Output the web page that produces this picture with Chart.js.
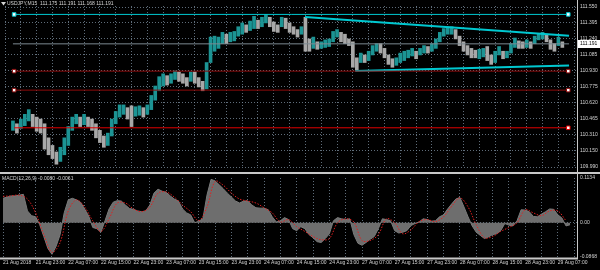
<!DOCTYPE html>
<html>
<head>
<meta charset="utf-8">
<script src="https://cdn.jsdelivr.net/npm/chart.js@4.4.1/dist/chart.umd.min.js"></script>
<style>
    html, body { margin: 0; padding: 0; background: #000; }
    #wrap { position: relative; width: 600px; height: 270px; overflow: hidden; background: #000; }
    canvas { position: absolute; left: 0; }
    #priceCanvas { top: 0; }
    #macdCanvas { top: 172px; }
</style>
</head>
<body>
<div id="wrap">
    <canvas id="priceCanvas" width="600" height="174"></canvas>
    <canvas id="macdCanvas" width="600" height="98"></canvas>
</div>
<script>
/* === DATA (x = hours since 21 Aug 15:00, one value per hour) === */
const symbolName = "USDJPY,M15";
const ohlc = [111.175, 111.191, 111.168, 111.191];
const lastPrice = 111.191;

const timeLabels = ["21 Aug 2018", "21 Aug 23:00", "22 Aug 07:00", "22 Aug 15:00", "22 Aug 23:00",
    "23 Aug 07:00", "23 Aug 15:00", "23 Aug 23:00", "24 Aug 07:00", "24 Aug 15:00", "24 Aug 23:00",
    "27 Aug 07:00", "27 Aug 15:00", "27 Aug 23:00", "28 Aug 07:00", "28 Aug 15:00", "28 Aug 23:00",
    "29 Aug 07:00"];

const priceTicks = [111.550, 111.395, 111.240, 111.085, 110.930, 110.775, 110.620, 110.465, 110.310, 110.150, 109.990];

const priceHigh = [
    110.440, 110.412, 110.458, 110.504, 110.550, 110.504, 110.477, 110.458, 110.412, 110.275,
    110.201, 110.137, 110.183, 110.275, 110.385, 110.477, 110.504, 110.477, 110.504, 110.477,
    110.458, 110.412, 110.348, 110.293, 110.321, 110.458, 110.532, 110.596, 110.596, 110.569,
    110.587, 110.578, 110.587, 110.569, 110.596, 110.688, 110.780, 110.871, 110.899, 110.881,
    110.899, 110.927, 110.917, 110.899, 110.862, 110.917, 110.917, 110.862, 110.826, 111.009,
    111.257, 111.266, 111.257, 111.303, 111.285, 111.303, 111.312, 111.358, 111.395, 111.376,
    111.413, 111.459, 111.422, 111.450, 111.477, 111.450, 111.404, 111.376, 111.450, 111.441,
    111.395, 111.358, 111.330, 111.358, 111.450, 111.239, 111.257, 111.211, 111.211, 111.230,
    111.239, 111.312, 111.330, 111.303, 111.285, 111.239, 111.211, 111.055, 111.101, 111.083,
    111.119, 111.174, 111.193, 111.193, 111.147, 111.083, 111.046, 111.055, 111.101, 111.119,
    111.129, 111.147, 111.119, 111.147, 111.174, 111.165, 111.193, 111.239, 111.303, 111.340,
    111.358, 111.358, 111.330, 111.266, 111.211, 111.174, 111.147, 111.129, 111.138, 111.147,
    111.165, 111.083, 111.119, 111.165, 111.119, 111.119, 111.193, 111.248, 111.220, 111.211,
    111.230, 111.211, 111.266, 111.285, 111.303, 111.285, 111.230, 111.193, 111.257, 111.211
];
const priceLow = [
    110.348, 110.321, 110.367, 110.394, 110.440, 110.385, 110.339, 110.321, 110.165, 110.110,
    110.073, 110.018, 110.045, 110.110, 110.201, 110.348, 110.412, 110.385, 110.403, 110.385,
    110.348, 110.275, 110.229, 110.183, 110.201, 110.293, 110.412, 110.477, 110.504, 110.458,
    110.385, 110.486, 110.495, 110.477, 110.504, 110.550, 110.642, 110.734, 110.780, 110.789,
    110.807, 110.844, 110.826, 110.807, 110.780, 110.826, 110.807, 110.771, 110.734, 110.752,
    111.009, 111.119, 111.147, 111.193, 111.193, 111.211, 111.220, 111.266, 111.285, 111.303,
    111.321, 111.340, 111.340, 111.358, 111.395, 111.358, 111.312, 111.303, 111.358, 111.340,
    111.303, 111.285, 111.257, 111.285, 111.119, 111.119, 111.147, 111.138, 111.147, 111.156,
    111.165, 111.211, 111.257, 111.211, 111.193, 111.174, 110.963, 110.936, 111.009, 111.009,
    111.028, 111.083, 111.119, 111.101, 111.055, 110.991, 110.963, 110.982, 111.009, 111.028,
    111.055, 111.073, 111.046, 111.083, 111.101, 111.101, 111.119, 111.147, 111.211, 111.266,
    111.285, 111.285, 111.239, 111.174, 111.119, 111.083, 111.055, 111.055, 111.046, 111.064,
    111.028, 110.991, 111.009, 111.083, 111.046, 111.055, 111.101, 111.156, 111.147, 111.147,
    111.156, 111.147, 111.193, 111.230, 111.239, 111.211, 111.138, 111.119, 111.174, 111.156
];

// horizontal objects and trend lines (hours, price)
const levelPrices = [111.478, 110.925, 110.740, 110.373];
const upperTrend = [{ x: 73.9, y: 111.453 }, { x: 140.7, y: 111.269 }];
const lowerTrend = [{ x: 86.6, y: 110.927 }, { x: 140.7, y: 110.979 }];

// MACD(12,26,9): main per hour, signal every 2 hours
const macdMain = [
    0.062, 0.065, 0.068, 0.068, 0.070, 0.072, 0.030, 0.018, 0.015, -0.005,
    -0.035, -0.065, -0.080, -0.060, -0.030, 0.025, 0.058, 0.062, 0.058, 0.052,
    0.035, 0.017, -0.012, -0.015, -0.024, 0.005, 0.035, 0.052, 0.056, 0.055,
    0.045, 0.036, 0.034, 0.030, 0.028, 0.030, 0.045, 0.075, 0.085, 0.080,
    0.077, 0.068, 0.060, 0.055, 0.035, 0.025, 0.020, 0.000, 0.004, 0.010,
    0.070, 0.110, 0.106, 0.096, 0.086, 0.075, 0.065, 0.055, 0.050, 0.055,
    0.055, 0.045, 0.038, 0.037, 0.037, 0.033, 0.015, 0.002, 0.005, 0.013,
    0.008, -0.015, -0.020, -0.010, -0.015, -0.030, -0.038, -0.048, -0.050, -0.040,
    -0.028, 0.005, 0.013, 0.010, 0.008, 0.010, -0.030, -0.052, -0.057, -0.050,
    -0.042, -0.035, -0.015, 0.010, 0.008, 0.005, -0.020, -0.026, -0.024, -0.020,
    -0.007, -0.002, 0.002, 0.010, 0.008, 0.004, 0.005, 0.015, 0.020, 0.035,
    0.048, 0.060, 0.064, 0.040, 0.015, -0.008, -0.024, -0.032, -0.040, -0.036,
    -0.030, -0.028, -0.020, -0.002, -0.006, -0.008, 0.005, 0.033, 0.032, 0.028,
    0.016, 0.015, 0.022, 0.028, 0.035, 0.034, 0.020, 0.012, -0.008, -0.005
];
const macdSignal = [
    0.067, 0.068, 0.070, 0.060, 0.025, -0.030, -0.075, -0.050, 0.030, 0.058,
    0.040, 0.005, -0.022, 0.010, 0.050, 0.050, 0.035, 0.028, 0.040, 0.075,
    0.078, 0.065, 0.045, 0.028, 0.005, 0.040, 0.105, 0.095, 0.075, 0.060,
    0.055, 0.050, 0.038, 0.025, 0.002, 0.008, -0.010, -0.022, -0.035, -0.043,
    -0.040, 0.000, 0.010, 0.002, -0.045, -0.045, -0.030, 0.010, 0.000, -0.028,
    -0.018, 0.003, 0.008, 0.003, 0.015, 0.042, 0.063, 0.040, -0.005, -0.038,
    -0.035, -0.022, -0.012, 0.000, 0.033, 0.025, 0.018, 0.030, 0.030, 0.005
];
const macdTicks = [0.1134, 0, -0.0868];
const macdTickLabels = ["0.1134", "0.00", "-0.0868"];
const macdHeader = "MACD(12,26,9) -0.0080 -0.0061";

/* === STYLE === */
const X_MAX = 140.7;
const AXIS_W = 23;
const UP = "#1c9494";
const DOWN = "#a8a8a8";
const GRID = "rgba(119,136,153,0.8)";
const TEXT = "#d4d4d4";
const FRAME = "#c8c8c8";
const FONT = { family: "'Liberation Sans'", size: 5 };

Chart.defaults.font.family = FONT.family;
Chart.defaults.font.size = FONT.size;
Chart.defaults.color = TEXT;

/* === PRICE PANEL === */
const candles = priceHigh.map((h, i) => ({ x: i, y: [priceLow[i], h] }));
const candleColors = priceHigh.map((h, i) => {
    const mid = (h + priceLow[i]) / 2;
    const prev = i ? (priceHigh[i - 1] + priceLow[i - 1]) / 2 : mid;
    return mid >= prev ? UP : DOWN;
});

function levelLine(price, color, radii) {
    return {
        type: "line",
        data: [{ x: 0.3, y: price }, { x: X_MAX - 0.2, y: price }],
        borderColor: color,
        borderWidth: 1,
        pointStyle: "rect",
        pointRadius: radii,
        pointBackgroundColor: "#ffffff",
        pointBorderColor: color,
        pointBorderWidth: 1,
        clip: false,
        order: 1,
    };
}

const priceFrame = {
    id: "priceFrame",
    afterDraw(chart) {
        const { ctx, chartArea: a, scales: { y } } = chart;
        ctx.save();
        ctx.strokeStyle = FRAME;
        ctx.lineWidth = 1;
        ctx.beginPath();
        ctx.moveTo(a.right + 0.5, 0);
        ctx.lineTo(a.right + 0.5, chart.height);
        ctx.stroke();

        // header
        ctx.fillStyle = TEXT;
        ctx.beginPath();
        ctx.moveTo(1, 2); ctx.lineTo(6, 2); ctx.lineTo(3.5, 5.5);
        ctx.closePath();
        ctx.fill();
        ctx.font = `${FONT.size}px ${FONT.family}`;
        ctx.textBaseline = "middle";
        ctx.textAlign = "left";
        ctx.fillText(symbolName + "  " + ohlc.map(v => v.toFixed(3)).join(" "), 7, 4);

        // current price box
        const py = Math.round(y.getPixelForValue(lastPrice));
        ctx.fillStyle = "#ffffff";
        ctx.fillRect(a.right + 1, py - 4, chart.width - a.right, 8);
        ctx.fillStyle = "#000000";
        ctx.fillText(lastPrice.toFixed(3), a.right + 3, py);
        ctx.restore();
    }
};

new Chart(document.getElementById("priceCanvas"), {
    type: "bar",
    data: {
        datasets: [
            levelLine(levelPrices[0], "#00c8d0", [2.5, 2.5]),
            levelLine(levelPrices[1], "#8c0a0a", [2.5, 2.5]),
            levelLine(levelPrices[2], "#8c0a0a", [2.5, 2.5]),
            levelLine(levelPrices[3], "#e00000", [0, 2.5]),
            {
                type: "line",
                data: [{ x: 0, y: lastPrice }, { x: X_MAX, y: lastPrice }],
                borderColor: "#7c8a92",
                borderWidth: 1,
                pointRadius: 0,
                order: 1,
            },
            {
                type: "line",
                data: upperTrend,
                borderColor: "#00c8d0",
                borderWidth: 2,
                pointRadius: 0,
                order: 1,
            },
            {
                type: "line",
                data: lowerTrend,
                borderColor: "#00c8d0",
                borderWidth: 2,
                pointRadius: 0,
                order: 1,
            },
            {
                data: candles,
                backgroundColor: candleColors,
                borderWidth: 0,
                barThickness: 3,
                grouped: false,
                order: 2,
            },
        ]
    },
    options: {
        responsive: false,
        animation: false,
        devicePixelRatio: 1,
        layout: { padding: { top: 0, left: 0, right: 0, bottom: 2 } },
        plugins: { legend: { display: false }, tooltip: { enabled: false } },
        scales: {
            x: {
                type: "linear",
                min: 0,
                max: X_MAX,
                ticks: { display: false, stepSize: 4, includeBounds: false },
                grid: { color: GRID, drawTicks: false },
                border: { display: false, dash: [1, 2] },
            },
            y: {
                position: "right",
                min: 109.981,
                max: 111.560,
                afterBuildTicks: s => { s.ticks = priceTicks.map(v => ({ value: v })); },
                afterFit: s => { s.width = AXIS_W; },
                ticks: { color: TEXT, padding: 3, autoSkip: false, callback: v => v.toFixed(3) },
                grid: { color: GRID, drawTicks: false },
                border: { display: false, dash: [1, 2] },
            }
        }
    },
    plugins: [priceFrame]
});

/* === MACD PANEL === */
const macdFrame = {
    id: "macdFrame",
    afterDraw(chart) {
        const { ctx, chartArea: a } = chart;
        ctx.save();
        ctx.strokeStyle = FRAME;
        ctx.lineWidth = 2;
        ctx.beginPath();
        ctx.moveTo(0, 1); ctx.lineTo(chart.width, 1);
        ctx.moveTo(0, a.bottom + 1.5); ctx.lineTo(a.right + 1, a.bottom + 1.5);
        ctx.stroke();
        ctx.lineWidth = 1;
        ctx.beginPath();
        ctx.moveTo(a.right + 0.5, 0);
        ctx.lineTo(a.right + 0.5, a.bottom + 1);
        ctx.stroke();

        ctx.fillStyle = TEXT;
        ctx.font = `${FONT.size}px ${FONT.family}`;
        ctx.textBaseline = "middle";
        ctx.textAlign = "left";
        ctx.fillText(macdHeader, 2, 6.5);
        ctx.restore();
    }
};

new Chart(document.getElementById("macdCanvas"), {
    type: "line",
    data: {
        datasets: [
            {
                data: macdMain.map((v, i) => ({ x: i, y: v })),
                borderColor: "#7a7a7a",
                borderWidth: 1,
                backgroundColor: "#6e6e6e",
                fill: "origin",
                pointRadius: 0,
                tension: 0,
                order: 2,
            },
            {
                data: macdSignal.map((v, i) => ({ x: i * 2, y: v })),
                borderColor: "#e02020",
                borderWidth: 1,
                borderDash: [1.5, 1.5],
                pointRadius: 0,
                tension: 0.35,
                order: 1,
            },
        ]
    },
    options: {
        responsive: false,
        animation: false,
        devicePixelRatio: 1,
        layout: { padding: { top: 4, left: 0, right: 0, bottom: 0 } },
        plugins: { legend: { display: false }, tooltip: { enabled: false } },
        scales: {
            x: {
                type: "linear",
                min: 0,
                max: X_MAX,
                afterFit: s => { s.height = 13; },
                ticks: {
                    stepSize: 4,
                    includeBounds: false,
                    autoSkip: false,
                    maxRotation: 0,
                    align: "start",
                    padding: 3,
                    color: TEXT,
                    callback: v => (v % 8 === 0 && timeLabels[v / 8]) ? timeLabels[v / 8] : "",
                },
                grid: { color: GRID, drawTicks: false },
                border: { display: false, dash: [1, 2] },
            },
            y: {
                position: "right",
                min: macdTicks[2],
                max: macdTicks[0],
                afterBuildTicks: s => { s.ticks = macdTicks.map(v => ({ value: v })); },
                afterFit: s => { s.width = AXIS_W; },
                ticks: { color: TEXT, padding: 3, autoSkip: false, callback: (v, i) => macdTickLabels[i] },
                grid: { color: c => (c.tick && c.tick.value === 0) ? GRID : "transparent", drawTicks: false },
                border: { display: false, dash: [1, 2] },
            }
        }
    },
    plugins: [macdFrame]
});
</script>
</body>
</html>
